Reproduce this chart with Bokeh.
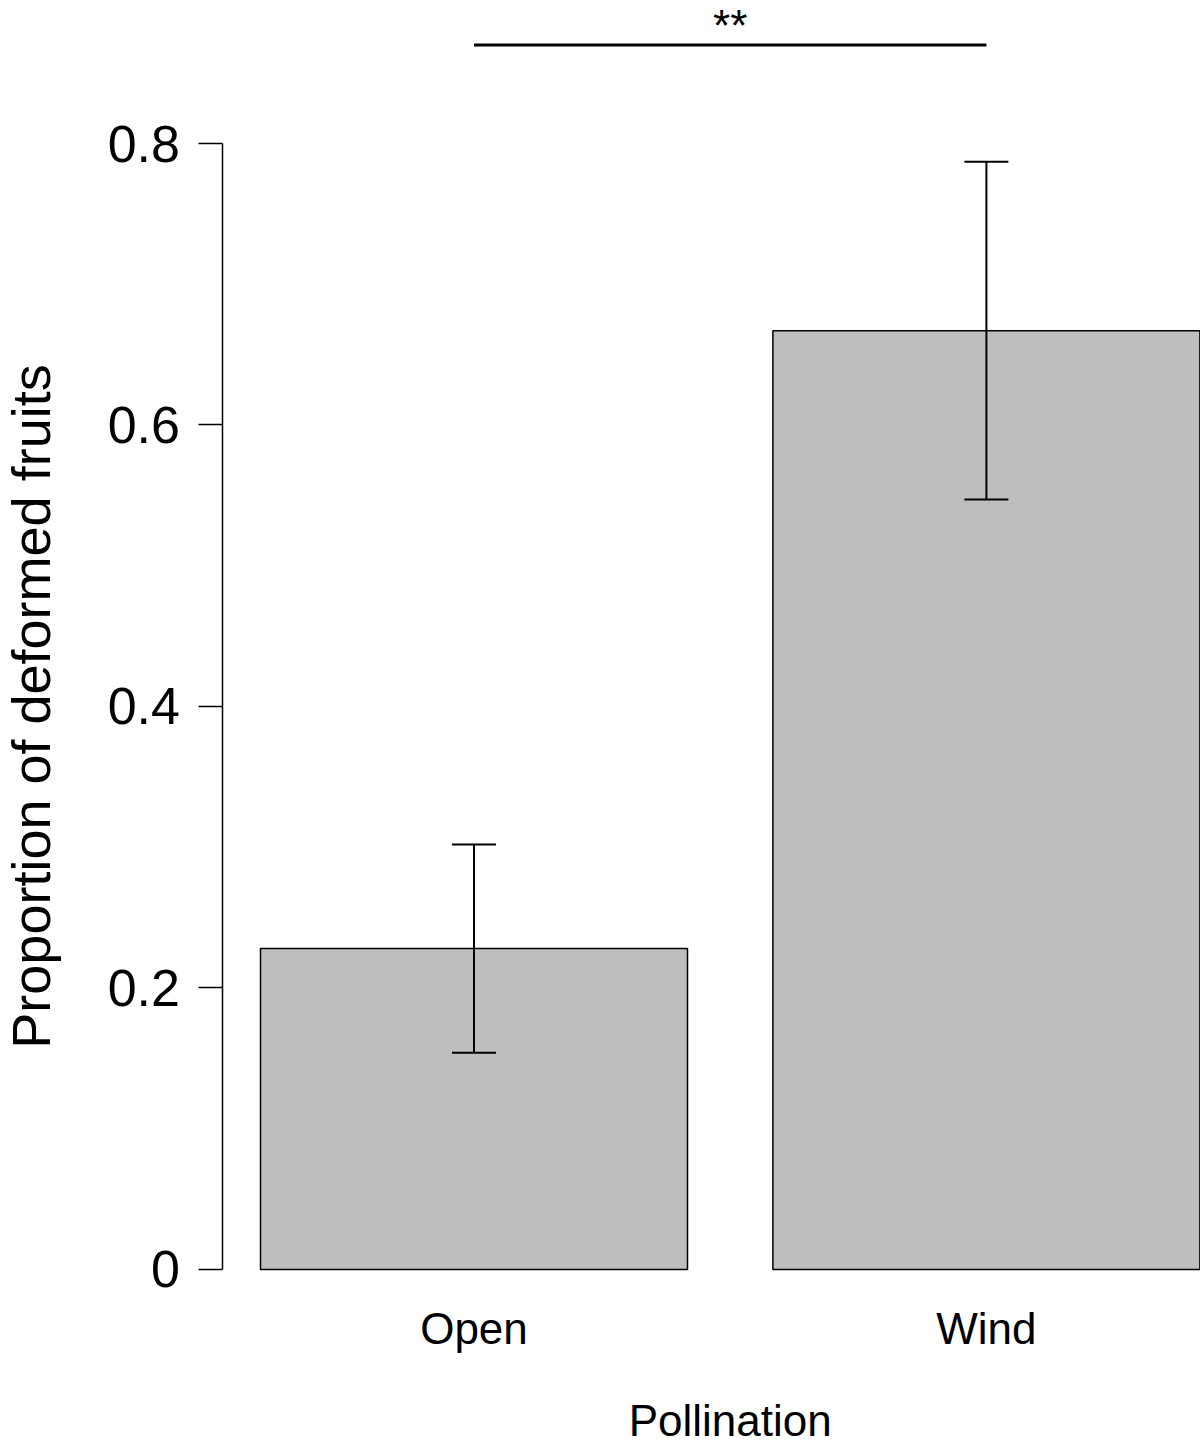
import math
from bokeh.plotting import figure
from bokeh.models import ColumnDataSource, Range1d, FixedTicker, Whisker, TeeHead, Label
from bokeh.core.properties import value
from bokeh.embed import file_html
from bokeh.resources import INLINE

# ---- data ----
categories = ["Open", "Wind"]
proportion = [0.228, 0.667]
ci_lower = [0.154, 0.547]
ci_upper = [0.302, 0.787]
y_ticks = [0, 0.2, 0.4, 0.6, 0.8]
y_tick_labels = ["0", "0.2", "0.4", "0.6", "0.8"]
signif_label = "**"
signif_y = 0.870
x_title = "Pollination"
y_title = "Proportion of deformed fruits"

FONT = "Liberation Sans"
bar_width = 1.0
bar_space = 0.2
centers = [bar_space * (i + 1) + bar_width * i + bar_width / 2 for i in range(len(categories))]
bar_left = centers[0] - bar_width / 2
bar_right = centers[-1] + bar_width / 2
yaxis_x = bar_left - 0.04 * (bar_right - bar_left)   # R-style plot region edge

p = figure(width=1200, height=1447,
           x_range=Range1d(-0.4089, 2.4014), y_range=Range1d(-0.12647, 0.9016),
           output_backend="svg", toolbar_location=None,
           min_border=0)
p.outline_line_color = None
p.xgrid.visible = False
p.ygrid.visible = False

p.vbar(x=centers, top=proportion, bottom=0, width=bar_width,
       fill_color="#BEBEBE", line_color="black", line_width=1.5)

src = ColumnDataSource(dict(base=centers, lower=ci_lower, upper=ci_upper))
w = Whisker(base="base", lower="lower", upper="upper", source=src,
            line_width=2, line_color="black", level="overlay",
            upper_head=TeeHead(size=44, line_width=2, line_color="black"),
            lower_head=TeeHead(size=44, line_width=2, line_color="black"))
p.add_layout(w)

# significance bracket
p.segment(x0=[centers[0]], x1=[centers[1]], y0=[signif_y], y1=[signif_y],
          line_color="black", line_width=3)
p.text(x=[(centers[0] + centers[1]) / 2], y=[signif_y], text=[signif_label],
       text_align="center", text_baseline="alphabetic", y_offset=-19,
       text_font=value(FONT), text_font_size="44px", text_color="black")

# y axis
ya = p.yaxis[0]
ya.fixed_location = yaxis_x
ya.ticker = FixedTicker(ticks=y_ticks)
ya.major_label_overrides = {t: l for t, l in zip(y_ticks, y_tick_labels)}
ya.bounds = (y_ticks[0], y_ticks[-1])
ya.axis_line_width = 1.5
ya.major_tick_line_width = 1.5
ya.major_tick_out = 24
ya.major_tick_in = 0
ya.minor_tick_line_color = None
ya.major_label_standoff = 19
ya.major_label_text_font = FONT
ya.major_label_text_font_size = "52px"
ya.major_label_text_color = "black"

# x axis
xa = p.xaxis[0]
xa.fixed_location = 0
xa.ticker = FixedTicker(ticks=centers)
xa.major_label_overrides = {c: n for c, n in zip(centers, categories)}
xa.axis_line_color = None
xa.major_tick_line_color = None
xa.minor_tick_line_color = None
xa.major_tick_out = 0
xa.major_tick_in = 0
xa.major_label_standoff = 35
xa.major_label_text_font = FONT
xa.major_label_text_font_size = "44px"
xa.major_label_text_color = "black"

# axis titles (centred on the axis extent, as in the original)
p.add_layout(Label(x=30, y=(y_ticks[0] + y_ticks[-1]) / 2,
                   x_units="screen", y_units="data", angle=math.pi / 2,
                   text=y_title, text_align="center", text_baseline="alphabetic",
                   text_font=FONT, text_font_size="54px", text_color="black"))
p.add_layout(Label(x=(bar_left + bar_right) / 2, y=27,
                   x_units="data", y_units="screen",
                   text=x_title, text_align="center", text_baseline="alphabetic",
                   text_font=FONT, text_font_size="44px", text_color="black"))

open("out.html", "w").write(file_html(p, INLINE))
